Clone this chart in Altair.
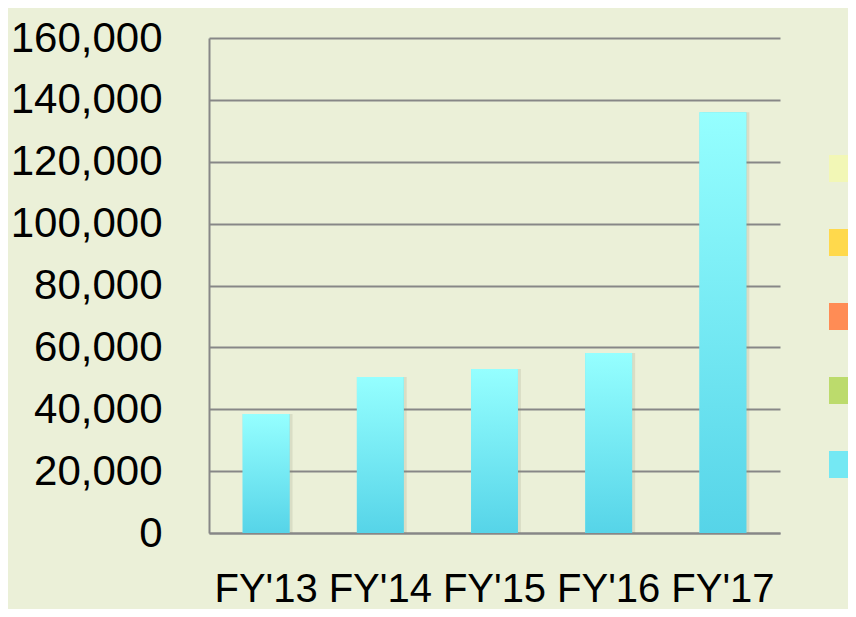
import altair as alt
import pandas as pd

years = ["FY'13", "FY'14", "FY'15", "FY'16", "FY'17"]
values = [38500, 50400, 53000, 58200, 136000]
series = ["S1", "S2", "S3", "S4", "S5"]
series_colors = ["#F2F7B6", "#FFD94C", "#FF8C55", "#BCDB6C", "#74E8F3"]
y_ticks = [0, 20000, 40000, 60000, 80000, 100000, 120000, 140000, 160000]

rows = []
for yr, v in zip(years, values):
    for s in series:
        rows.append({"year": yr, "series": s, "value": v if s == series[-1] else 0})
df = pd.DataFrame(rows)
main = pd.DataFrame({"year": years, "value": values})

FONT = "Liberation Sans"

x_enc = alt.X("year:N", sort=years, title=None,
              scale=alt.Scale(paddingInner=0.59, paddingOuter=0.295),
              axis=alt.Axis(labelAngle=0, labelFontSize=40, labelFont=FONT,
                            labelColor="#000000", ticks=False, labelPadding=36,
                            domainColor="#878787", domainWidth=2))
y_enc = alt.Y("value:Q", stack="zero", title=None,
              scale=alt.Scale(domain=[0, 160000], nice=False),
              axis=alt.Axis(values=y_ticks, format=",.0f", labelFontSize=42, labelFont=FONT,
                            labelColor="#000000", ticks=False, labelPadding=47,
                            grid=True, gridColor="#878787", gridWidth=2,
                            domainColor="#878787", domainWidth=2))

legend_layer = alt.Chart(df).mark_bar().encode(
    x=x_enc,
    y=y_enc,
    color=alt.Color("series:N", sort=series,
                    scale=alt.Scale(domain=series, range=series_colors),
                    legend=alt.Legend(orient="none", legendX=620, legendY=117,
                                      title=None, symbolType="square", symbolSize=729,
                                      symbolStrokeWidth=0, rowPadding=47, labelExpr="''",
                                      labelFontSize=1, padding=0, symbolOffset=0)),
)

shadow = alt.Chart(main).mark_bar(color="#8a8a70", opacity=0.18, xOffset=3).encode(
    x=x_enc, y=y_enc,
)

grad = alt.Gradient(
    gradient="linear",
    stops=[alt.GradientStop(color="#95FFFF", offset=0),
           alt.GradientStop(color="#56D4E8", offset=1)],
    x1=0, x2=0, y1=0, y2=1,
)
bars = alt.Chart(main).mark_bar(color=grad).encode(
    x=x_enc, y=y_enc,
)

chart = alt.layer(legend_layer, shadow, bars).properties(
    width=571, height=495,
    background="#EBF0D8",
    autosize=alt.AutoSizeParams(type="none"),
    padding={"left": 201, "top": 30, "right": 68, "bottom": 76},
).configure_view(stroke=None)

chart.save("out.html", embed_options={"renderer": "svg", "actions": False})
